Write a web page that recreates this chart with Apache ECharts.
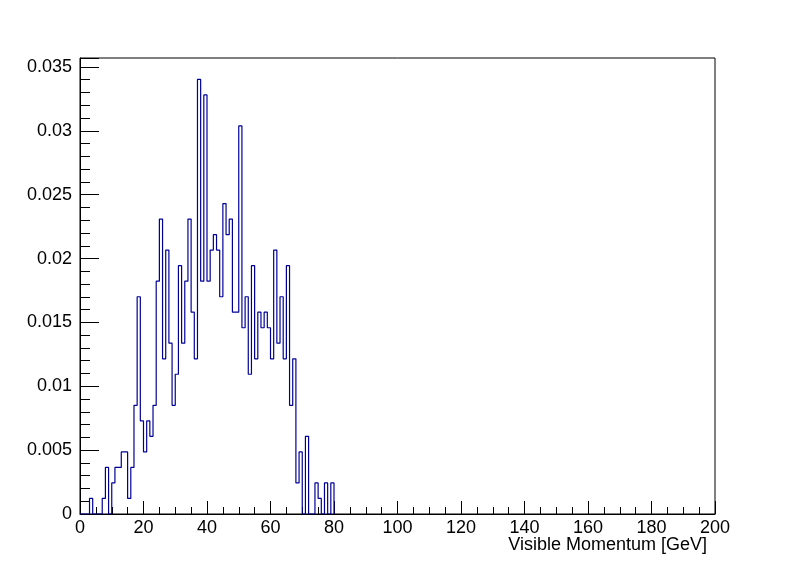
<!DOCTYPE html>
<html>
<head>
<meta charset="utf-8">
<script src="https://cdn.jsdelivr.net/npm/echarts@6/dist/echarts.min.js"></script>
<style>
html,body{margin:0;padding:0;background:#fff;}
#chart{width:796px;height:572px;}
</style>
</head>
<body>
<div id="chart"></div>
<script>
// Histogram: 1 GeV bins starting at 0 GeV
const binLow = 0;
const binWidth = 1;
const binValues = [
  0, 0, 0, 0.00122, 0, 0, 0, 0.00122, 0.00365, 0,
  0.00243, 0.00365, 0.00365, 0.00486, 0.00486, 0.00122, 0.00365, 0.00851, 0.01701, 0.00729,
  0.00486, 0.00729, 0.00608, 0.00851, 0.01823, 0.02309, 0.01215, 0.02066, 0.01337, 0.00851,
  0.01094, 0.01944, 0.01337, 0.01823, 0.02309, 0.0158, 0.01215, 0.03402, 0.01823, 0.03281,
  0.01823, 0.02066, 0.02187, 0.02066, 0.01701, 0.0243, 0.02187, 0.02309, 0.0158, 0.0158,
  0.03038, 0.01458, 0.01701, 0.01094, 0.01944, 0.01215, 0.0158, 0.01458, 0.0158, 0.01458,
  0.01215, 0.02066, 0.01337, 0.01701, 0.01215, 0.01944, 0.00851, 0.01215, 0.00243, 0.00486,
  0, 0.00608, 0, 0, 0.00243, 0.00122, 0, 0.00243, 0, 0.00243
];
const xTitle = 'Visible Momentum [GeV]';
const xRange = [0, 200];
const yRange = [0, 0.0357];

const pts = binValues.map((v, i) => [binLow + i * binWidth, v]);
pts.push([binLow + binValues.length * binWidth, 0]);

const font = 'Liberation Sans, Arial, Helvetica, sans-serif';
const chart = echarts.init(document.getElementById('chart'), null, {renderer: 'canvas'});
chart.setOption({
  animation: false,
  backgroundColor: '#ffffff',
  grid: {left: 80, right: 81, top: 58, bottom: 58, show: true, borderColor: '#000', borderWidth: 1, backgroundColor: 'transparent'},
  graphic: [{
    type: 'text', right: 89, top: 536,
    style: {text: xTitle, font: '18px ' + font, fill: '#000'}
  }],
  xAxis: {
    type: 'value', min: xRange[0], max: xRange[1], interval: 20,
    axisLine: {show: true, onZero: false, lineStyle: {color: '#000', width: 1}},
    axisTick: {show: true, inside: true, length: 13, lineStyle: {color: '#000'}},
    minorTick: {show: true, splitNumber: 4, length: 7, lineStyle: {color: '#000'}},
    axisLabel: {color: '#000', fontSize: 18, fontFamily: font, margin: 5},
    splitLine: {show: false}
  },
  yAxis: {
    type: 'value', min: yRange[0], max: yRange[1], interval: 0.005,
    axisLine: {show: true, lineStyle: {color: '#000', width: 1}},
    axisTick: {show: true, inside: true, length: 19, lineStyle: {color: '#000'}},
    minorTick: {show: true, splitNumber: 5, length: 10, lineStyle: {color: '#000'}},
    axisLabel: {color: '#000', fontSize: 18, fontFamily: font, margin: 8, showMaxLabel: false},
    splitLine: {show: false}
  },
  series: [{
    type: 'line', data: pts, step: 'end', showSymbol: false, symbol: 'none',
    lineStyle: {color: '#000099', width: 1.2}, clip: true
  }]
});
</script>
</body>
</html>
